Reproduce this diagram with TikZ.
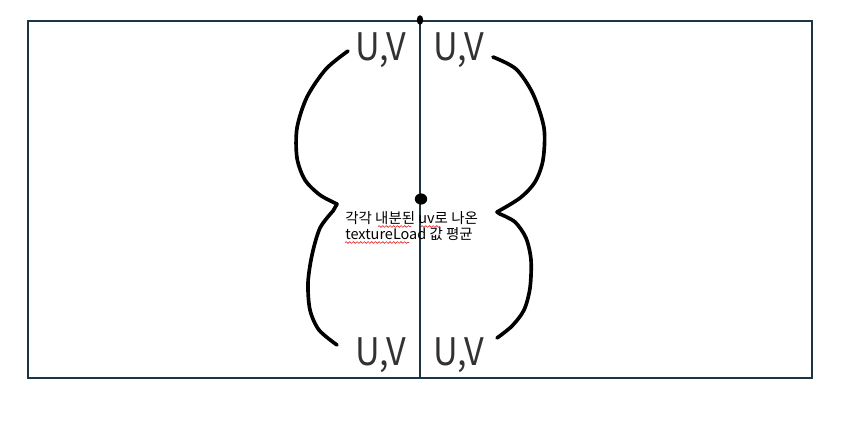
\documentclass[tikz,border=0pt]{standalone}
\usepackage{fontspec}
\usepackage{tikz}
\usetikzlibrary{decorations.pathmorphing}
\newfontfamily\uvfont[FakeStretch=0.9]{Noto Sans CJK KR}
\newfontfamily\cjk{Noto Sans CJK KR}
\definecolor{frameBlue}{RGB}{30, 52, 66}
\definecolor{uvGray}{RGB}{50, 50, 50}
\definecolor{spellRed}{RGB}{230, 40, 40}
\tikzset{
  sketch/.style={line width=2.6pt, black, line cap=round, line join=round},
  uvlabel/.style={font=\uvfont\fontsize{27}{27}\selectfont, text=uvGray, inner sep=0pt},
  note/.style={font=\cjk\fontsize{10.3}{10.3}\selectfont, inner sep=0pt, anchor=base west},
  spell/.style={spellRed, line width=0.45pt,
    decorate, decoration={snake, amplitude=0.6pt, segment length=2.6pt}}
}

\begin{document}
\begin{tikzpicture}[x=0.025cm, y=-0.025cm]
    \useasboundingbox (0,0) rectangle (848,421);
    % frame and middle line
    \draw[frameBlue, line width=1.4pt] (28,21) rectangle (812,378);
    \coordinate (top) at (420,16);
    \coordinate (bottom) at (420,378);
    \draw[frameBlue, line width=1.4pt] (top) -- (bottom);
    \fill (420,20) ellipse (3.2 and 4.8);
    \fill (421,199) ellipse (6.2 and 5.6);
    % labels
    \node[uvlabel] (uvTL) at (381,50) {U,V};
    \node[uvlabel] (uvTR) at (459,50) {U,V};
    \node[uvlabel] (uvBL) at (381,355) {U,V};
    \node[uvlabel] (uvBR) at (459,355) {U,V};
    \node[note] (noteA) at (345,223) {각각 내분된 uv로 나온};
    \node[note] (noteB) at (345,239) {textureLoad 값 평균};
    % spell-check marks
    \draw[spell] (378,226.5) -- (411,226.5);
    \draw[spell] (421,226.5) -- (440,226.5);
    \draw[spell] (345,242.5) -- (409,242.5);
    % hand-drawn curves
    \draw[sketch] plot[smooth] coordinates {(348,51) (326,69) (307,97) (297,128)
        (297,158) (305,180) (320,195) (337,204)}
      -- plot[smooth] coordinates {(333,211) (320,228) (312,255) (308,283)
        (310,310) (319,330) (337,345)};
    \draw[sketch] plot[smooth] coordinates {(493,57) (516,69) (533,94) (544,128)
        (543,160) (535,182) (520,198) (497,212)}
      -- plot[smooth] coordinates {(500,214) (515,222) (526,238) (531,260)
        (530,288) (524,310) (512,326) (497,338)};
\end{tikzpicture}
\end{document}
